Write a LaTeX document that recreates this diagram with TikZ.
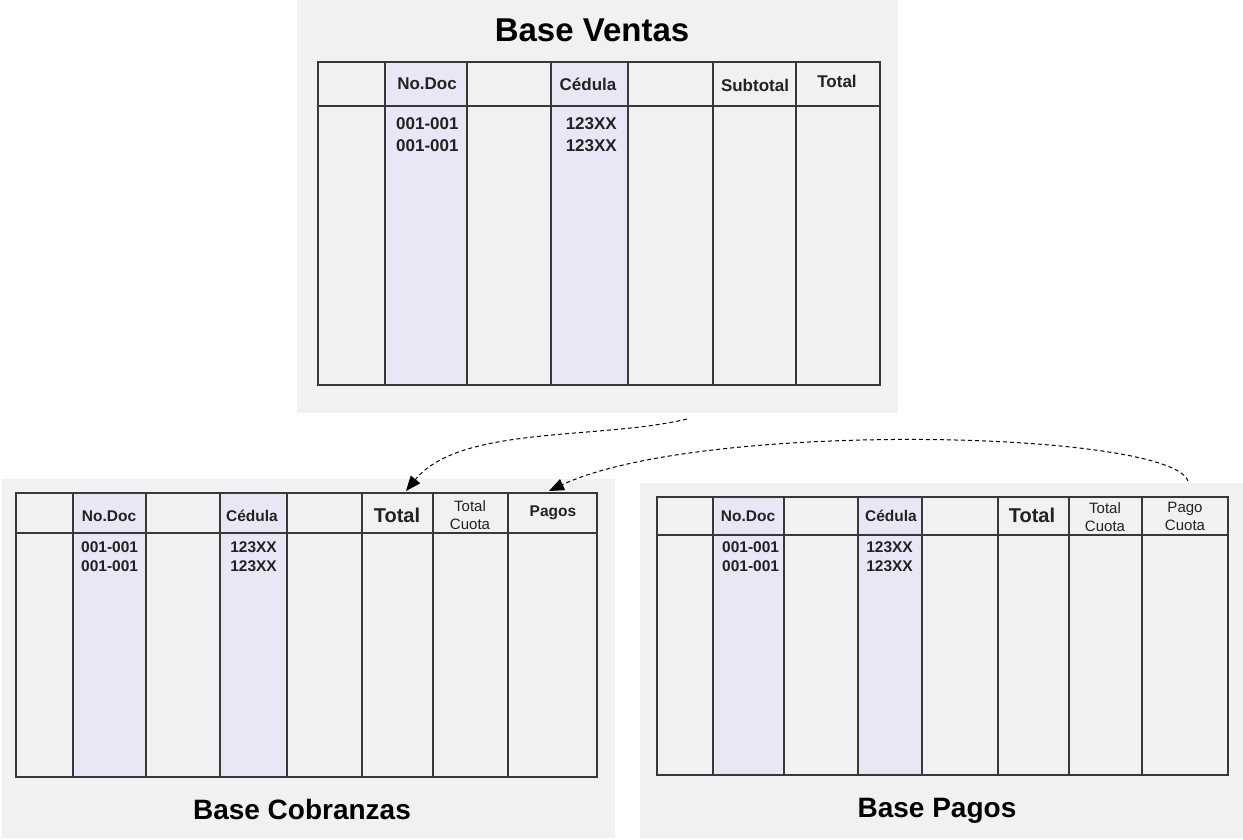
\documentclass[tikz,border=0pt]{standalone}
\usepackage{fontspec}
\setmainfont{Liberation Sans}
\usetikzlibrary{arrows.meta}
\definecolor{panelbg}{HTML}{F1F1F1}
\definecolor{colshade}{HTML}{E7E7F6}
\definecolor{tblline}{HTML}{383838}
\definecolor{txt}{HTML}{222222}
\tikzset{
  panel/.style={fill=panelbg, draw=none},
  shadecol/.style={fill=colshade, draw=none},
  tbl/.style={draw=tblline, line width=2.6pt},
  hdr/.style={font=\bfseries\fontsize{17}{18}\selectfont, inner sep=0pt, text=txt},
  hdrb/.style={font=\bfseries\fontsize{15.5}{16}\selectfont, inner sep=0pt, text=txt},
  hdrsmall/.style={font=\fontsize{15}{18}\selectfont, inner sep=0pt, align=center, text=txt},
  hdrbig/.style={font=\bfseries\fontsize{20}{21}\selectfont, inner sep=0pt, text=txt},
  datal/.style={font=\bfseries\fontsize{17}{18}\selectfont, inner sep=0pt, anchor=west, text=txt},
  datar/.style={font=\bfseries\fontsize{17}{18}\selectfont, inner sep=0pt, anchor=east, text=txt},
  datalb/.style={font=\bfseries\fontsize{15.5}{16}\selectfont, inner sep=0pt, anchor=west, text=txt},
  datarb/.style={font=\bfseries\fontsize{15.5}{16}\selectfont, inner sep=0pt, anchor=east, text=txt},
  ttl/.style={font=\bfseries\fontsize{33}{34}\selectfont, inner sep=0pt},
  ttlsm/.style={font=\bfseries\fontsize{28}{29}\selectfont, inner sep=0pt},
  flow/.style={draw=black, line width=1pt, dashed, dash pattern=on 4pt off 3pt, -{Triangle[length=15pt,width=12pt]}}
}
\begin{document}
\begin{tikzpicture}[x=1pt,y=-1pt]
\useasboundingbox (0,0) rectangle (1243,840);
\fill[white] (0,0) rectangle (1243,840);

% ---------- Top panel: Base Ventas ----------
\fill[panel] (297,0) rectangle (898,413);
\node[ttl] (tV) at (592,30) {Base Ventas};
\fill[shadecol] (385,62) rectangle (467,385);
\fill[shadecol] (551,62) rectangle (628,385);
\draw[tbl] (318,62) rectangle (880,385);
\draw[tbl] (318,106) -- (880,106);
\foreach \x in {385,467,551,628,713,796} \draw[tbl] (\x,62) -- (\x,385);
\node[hdr] (vDoc) at (427,84) {No.Doc};
\node[hdr] (vCed) at (588,84) {Cédula};
\node[hdr] (vSub) at (755,85) {Subtotal};
\node[hdr] (vTot) at (837,81) {Total};
\node[datal] (vd1) at (396,124) {001-001};
\node[datal] (vd2) at (396,146) {001-001};
\node[datar] (vc1) at (617,124) {123XX};
\node[datar] (vc2) at (617,146) {123XX};
\coordinate (vOut) at (687,419);

% ---------- Bottom-left panel: Base Cobranzas ----------
\fill[panel] (2,479) rectangle (615,838);
\fill[shadecol] (73,493) rectangle (146,777);
\fill[shadecol] (220,493) rectangle (287,777);
\draw[tbl] (16,493) rectangle (597,777);
\draw[tbl] (16,533) -- (597,533);
\foreach \x in {73,146,220,287,362,433,508} \draw[tbl] (\x,493) -- (\x,777);
\node[hdrb] (cDoc) at (109,516) {No.Doc};
\node[hdrb] (cCed) at (252,516) {Cédula};
\node[hdrbig] (cTot) at (397,515) {Total};
\node[hdrsmall] (cCuo) at (470,515) {Total\\Cuota};
\node[hdrb] (cPag) at (553,513) {Pagos};
\node[datalb] (cd1) at (81,547) {001-001};
\node[datalb] (cd2) at (81,566) {001-001};
\node[datarb] (cc1) at (277,547) {123XX};
\node[datarb] (cc2) at (277,566) {123XX};
\node[ttlsm] (tC) at (302,809) {Base Cobranzas};
\coordinate (cTotIn) at (406,491);
\coordinate (cPagIn) at (549,491);

% ---------- Bottom-right panel: Base Pagos ----------
\fill[panel] (640,483) rectangle (1243,838);
\fill[shadecol] (713,497) rectangle (784,775);
\fill[shadecol] (858,497) rectangle (922,775);
\draw[tbl] (657,497) rectangle (1228,775);
\draw[tbl] (657,535) -- (1228,535);
\foreach \x in {713,784,858,922,998,1069,1142} \draw[tbl] (\x,497) -- (\x,775);
\node[hdrb] (pDoc) at (748,516) {No.Doc};
\node[hdrb] (pCed) at (891,516) {Cédula};
\node[hdrbig] (pTot) at (1032,515) {Total};
\node[hdrsmall] (pCuo) at (1105,517) {Total\\Cuota};
\node[hdrsmall] (pPag) at (1185,516) {Pago\\Cuota};
\node[datalb] (pd1) at (722,547) {001-001};
\node[datalb] (pd2) at (722,566) {001-001};
\node[datarb] (pc1) at (913,547) {123XX};
\node[datarb] (pc2) at (913,566) {123XX};
\node[ttlsm] (tP) at (937,811) {Base Pagos};
\coordinate (pOut) at (1188,481);

% ---------- Connectors ----------
\draw[flow] (vOut) .. controls (600,440) and (460,425) .. (cTotIn);
\draw[flow] (pOut) .. controls (1170,430) and (700,420) .. (cPagIn);
\end{tikzpicture}
\end{document}
